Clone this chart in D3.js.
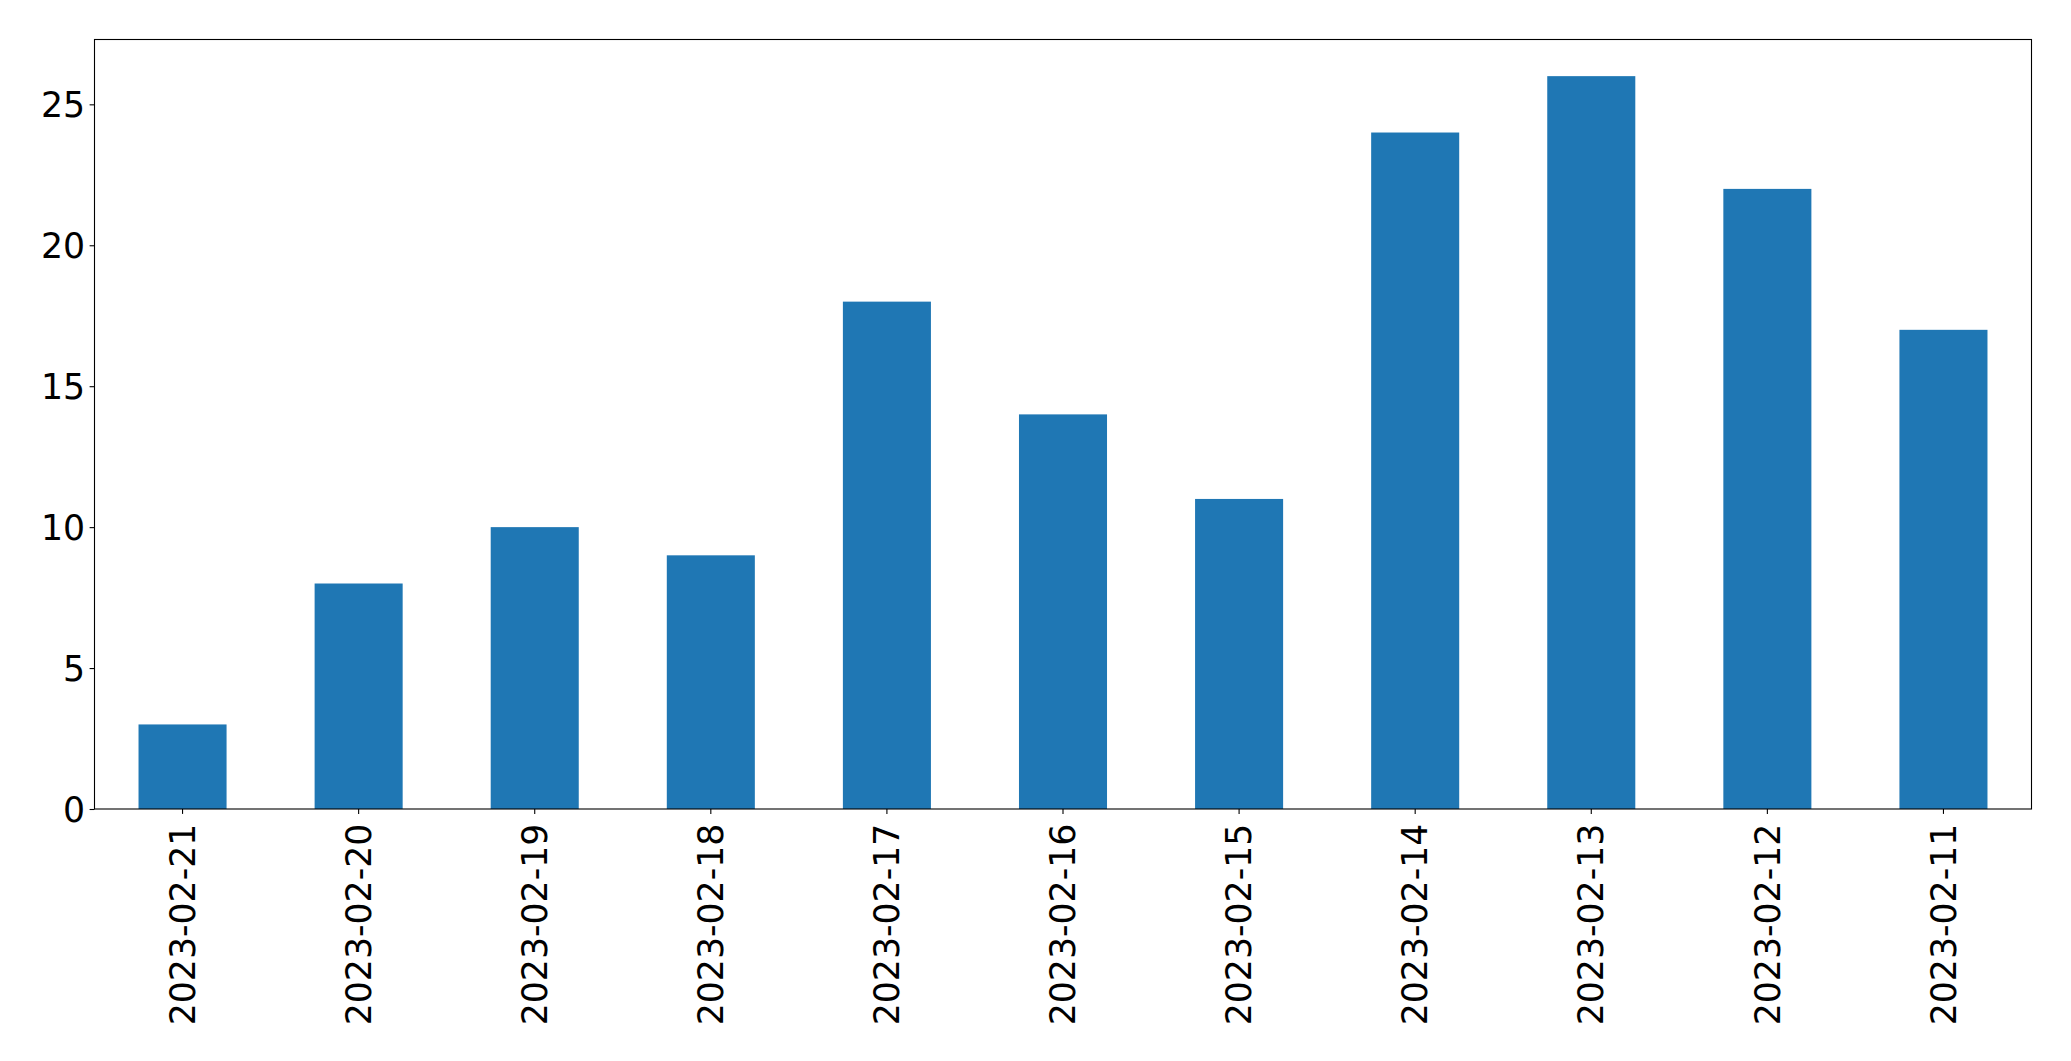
<!DOCTYPE html>
<html>
<head>
<meta charset="utf-8">
<script src="https://cdn.jsdelivr.net/npm/d3@7"></script>
<style>
  body { margin: 0; background: #fff; }
  svg { display: block; }
  text { font-family: "DejaVu Sans", sans-serif; }
</style>
</head>
<body>
<svg width="2071" height="1061"></svg>
<script>
// data
var dates = ['2023-02-21', '2023-02-20', '2023-02-19', '2023-02-18', '2023-02-17', '2023-02-16',
             '2023-02-15', '2023-02-14', '2023-02-13', '2023-02-12', '2023-02-11'];
var counts = [3, 8, 10, 9, 18, 14, 11, 24, 26, 22, 17];
var yTicks = [0, 5, 10, 15, 20, 25];

var plotLeft = 94.5, plotRight = 2031.5, plotTop = 39.5, plotBottom = 809;
var svgctrl = d3.select('svg');

var x = d3.scaleBand().domain(dates).range([plotLeft, plotRight]).paddingInner(0.5).paddingOuter(0.25);
var y = d3.scaleLinear().domain([0, d3.max(counts) * 1.05]).range([plotBottom, plotTop]);

// bars
svgctrl.append('g').selectAll('rect')
    .data(dates)
    .enter().append('rect')
    .attr('x', function (d) { return x(d); })
    .attr('y', function (d, i) { return y(counts[i]); })
    .attr('width', x.bandwidth())
    .attr('height', function (d, i) { return plotBottom - y(counts[i]); })
    .attr('fill', '#1f77b4');

// y axis
var yAxis = svgctrl.append('g')
    .attr('transform', 'translate(' + plotLeft + ',0)')
    .call(d3.axisLeft(y).tickValues(yTicks).tickSize(4.9).tickPadding(4.5).tickFormat(d3.format('d')));
yAxis.select('.domain').remove();
yAxis.selectAll('line').attr('stroke', 'black').attr('stroke-width', 1.1);
yAxis.selectAll('text').attr('font-size', '34.7px').attr('fill', 'black')
    .attr('font-family', '"DejaVu Sans", sans-serif').attr('dy', '0.36em');

// x axis
var xAxis = svgctrl.append('g')
    .attr('transform', 'translate(0,' + plotBottom + ')')
    .call(d3.axisBottom(x).tickSize(4.9).tickPadding(4.9));
xAxis.select('.domain').remove();
xAxis.selectAll('line').attr('stroke', 'black').attr('stroke-width', 1.1);
xAxis.selectAll('text')
    .attr('font-size', '34.7px').attr('fill', 'black')
    .attr('font-family', '"DejaVu Sans", sans-serif')
    .attr('text-anchor', 'end')
    .attr('dy', '0.35em')
    .attr('transform', 'translate(0,4.9) rotate(-90)')
    .attr('x', -9.8).attr('y', 0);

// frame
svgctrl.append('rect')
    .attr('x', plotLeft).attr('y', plotTop)
    .attr('width', plotRight - plotLeft).attr('height', plotBottom - plotTop)
    .attr('fill', 'none').attr('stroke', 'black').attr('stroke-width', 1.1);
</script>
</body>
</html>
